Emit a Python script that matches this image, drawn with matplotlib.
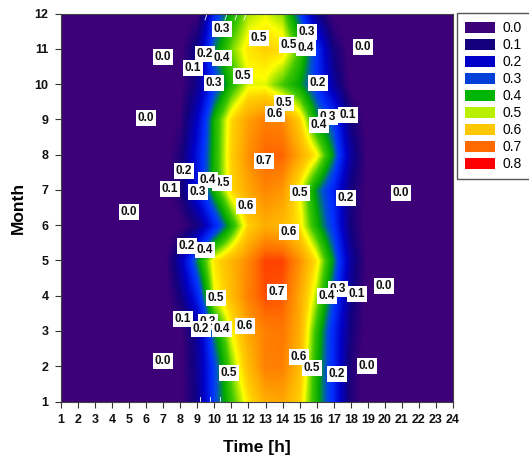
import numpy as np
import matplotlib
matplotlib.use("Agg")
import matplotlib.pyplot as plt
from matplotlib.colors import LinearSegmentedColormap
from matplotlib.patches import Patch

plt.rcParams['font.family'] = ['Liberation Sans', 'DejaVu Sans']

hours = np.arange(1, 25)
months = np.arange(1, 13)

# values for hours 7..19, everything else is 0
first_hour = 7
m1 = [0, .02, .12, .32, .45, .55, .62, .63, .57, .42, .28, .08, 0]
m2 = [0, .02, .13, .32, .48, .60, .68, .68, .60, .42, .28, .08, 0]
m3 = [0, .02, .14, .38, .53, .63, .68, .69, .62, .44, .28, .10, .01]
m4 = [0, .10, .27, .52, .60, .68, .73, .72, .63, .50, .33, .12, .01]
m5 = [0, .17, .38, .55, .61, .67, .74, .74, .66, .55, .38, .15, .02]
m6 = [0, .02, .10, .27, .42, .57, .62, .60, .55, .42, .30, .10, .01]
m7 = [.01, .08, .25, .42, .56, .63, .67, .65, .53, .38, .27, .10, .02]
m8 = [0, .08, .24, .42, .57, .66, .71, .71, .63, .54, .38, .15, .02]
m9 = [0, .04, .20, .42, .56, .64, .68, .67, .57, .40, .31, .10, .01]
m10 = [0, .02, .12, .30, .43, .52, .52, .46, .40, .30, .15, .02, 0]
m11 = [0, .02, .13, .37, .48, .55, .57, .56, .46, .30, .10, .01, 0]
m12 = [0, 0, .03, .28, .42, .50, .52, .49, .33, .13, .02, 0, 0]
rows = [m1, m2, m3, m4, m5, m6, m7, m8, m9, m10, m11, m12]

grid = np.zeros((12, 24))
for i, r in enumerate(rows):
    grid[i, first_hour - 1:first_hour - 1 + len(r)] = r

level_vals = [0.0, 0.1, 0.2, 0.3, 0.4, 0.5, 0.6, 0.7, 0.8]
level_cols = ['#3c0078', '#14007e', '#0000c8', '#0040d8', '#00b400',
              '#b8f000', '#ffc800', '#ff6a00', '#ff0000']
# colour ramp stops, the ramp goes brighter between the legend swatches
ramp_vals = [0.0, 0.03, 0.1, 0.2, 0.3, 0.34, 0.4, 0.46, 0.5, 0.53, 0.57, 0.63, 0.7, 0.8]
ramp_cols = ['#3c0078', '#3c0078', '#14007e', '#0000c8', '#0030ff', '#0050d0', '#00a800', '#40c800',
             '#a8e800', '#ffff00', '#ffd000', '#ffa800', '#ff7000', '#ff0000']

# contour labels: pixel position in the picture, then the text
label_px = [222, 259, 307, 289, 306, 363, 163, 205, 222, 193, 243, 214, 318, 284, 275, 328, 348,
            319, 146, 264, 184, 222, 208, 170, 198, 300, 346, 401, 246, 129, 289, 187, 205,
            216, 277, 338, 327, 357, 384, 183, 208, 201, 222, 245, 299, 312, 337, 163, 229, 367]
label_py = [29, 38, 32, 45, 48, 47, 57, 54, 58, 68, 76, 83, 83, 103, 114, 117, 115,
            125, 118, 161, 171, 183, 180, 189, 192, 193, 198, 193, 206, 212, 232, 246, 250,
            298, 292, 289, 296, 294, 286, 319, 322, 329, 329, 326, 357, 368, 374, 361, 373, 366]
label_txt = ['0.3', '0.5', '0.3', '0.5', '0.4', '0.0', '0.0', '0.2', '0.4', '0.1', '0.5', '0.3', '0.2', '0.5', '0.6', '0.3', '0.1',
             '0.4', '0.0', '0.7', '0.2', '0.5', '0.4', '0.1', '0.3', '0.5', '0.2', '0.0', '0.6', '0.0', '0.6', '0.2', '0.4',
             '0.5', '0.7', '0.3', '0.4', '0.1', '0.0', '0.1', '0.3', '0.2', '0.4', '0.6', '0.6', '0.5', '0.2', '0.0', '0.5', '0.0']
# little white contour stubs at the top and bottom edge
stub_top = [207, 227, 237, 246]
stub_bottom = [200, 210, 220]

W, H = 529, 459
L, R, T, B = 61, 453, 13.5, 401.5


def hx(px):
    return 1 + (px - L) / (R - L) * 23


def my(py):
    return 1 + (B - py) / (B - T) * 11


cmap = LinearSegmentedColormap.from_list('cm', [(v / 0.8, c) for v, c in zip(ramp_vals, ramp_cols)], N=512)

fig = plt.figure(figsize=(W / 100, H / 100), dpi=100)
ax = fig.add_axes([L / W, 1 - B / H, (R - L) / W, (B - T) / H])
ax.imshow(grid, origin='lower', extent=(0.5, 24.5, 0.5, 12.5), aspect='auto', interpolation='bilinear',
          cmap=cmap, vmin=0, vmax=0.8)
ax.set_xlim(1, 24)
ax.set_ylim(1, 12)
ax.set_xticks(hours)
ax.set_yticks(months)
ax.tick_params(axis='both', length=4, width=0.8, color='#333333', labelsize=9, pad=5, labelcolor='#111111')
for t in ax.get_xticklabels() + ax.get_yticklabels():
    t.set_fontweight('bold')
for s in ax.spines.values():
    s.set_linewidth(0.8)
    s.set_color('#444444')
ax.set_xlabel('Time [h]', fontsize=12.5, fontweight='bold', labelpad=10)
ax.set_ylabel('Month', fontsize=12.5, fontweight='bold', labelpad=6)

for px in stub_top:
    ax.plot([hx(px), hx(px - 2)], [my(14), my(20)], color='white', lw=0.6)
for px in stub_bottom:
    ax.plot([hx(px), hx(px)], [my(401), my(397)], color='white', lw=0.6)

for px, py, txt in zip(label_px, label_py, label_txt):
    ax.text(hx(px), my(py), txt, ha='center', va='center', fontsize=8.5, fontweight='bold', color='#111111',
            bbox=dict(facecolor='white', edgecolor='none', pad=1.1))

handles = [Patch(facecolor=c, edgecolor='none') for c in level_cols]
labels = ['%.1f' % v for v in level_vals]
leg = fig.legend(handles, labels, loc='upper left', bbox_to_anchor=(457 / W, 1 - 13 / H),
                 borderaxespad=0, fancybox=False, framealpha=1,
                 edgecolor='#555555', fontsize=10, handlelength=2.15, handleheight=0.85,
                 labelspacing=0.214, handletextpad=0.55, borderpad=0.6)
leg.get_frame().set_linewidth(1.0)

fig.savefig('out.png', dpi=100)
